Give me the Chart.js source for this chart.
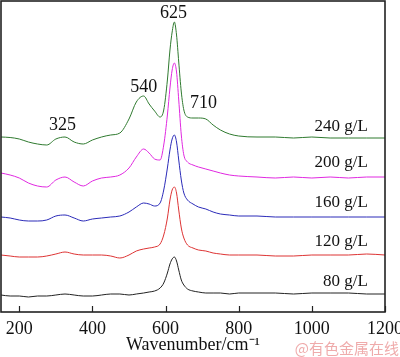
<!DOCTYPE html>
<html><head><meta charset="utf-8">
<script src="https://cdn.jsdelivr.net/npm/chart.js@4/dist/chart.umd.min.js"></script>
<style>html,body{margin:0;padding:0;background:#fff}#wrap{width:400px;height:357px}</style>
</head><body><div id="wrap"><canvas id="c" width="400" height="357"></canvas></div>
<script>
const wavenumbers = [150,175,200,225,250,275,300,325,350,375,400,425,450,475,500,520,540,555,570,585,595,605,612,618,624,630,636,643,650,660,675,690,710,730,750,775,800,850,900,950,1000,1050,1100,1150,1200];
const s240 = [175,174.5,173,170,168,167,173,175,170,168,172,175,177,179,193,210,216,208,201,195,202,232,262,280,290,277,250,220,202,195,194,194,193,187,182,178,176,175,175,174,175,174,174,174,174];
const s200 = [139,137,134,129,126,125,132,135,130,126,131,134,135,137,144,155,163,159,153,152,167,197,224,242,249,240,212,177,157,150,147,145,143,141,139,137,136,135,134,135,134,135,134,135,135];
const s160 = [95,94,92,91,91,92,96,97,94,91,93,94,95,96,100,105,109,108,106,109,122,144,162,173,177,170,152,132,119,112,108,105,103,100,98,97,96,96,95,95,95,95,95,95,95];
const s120 = [57,56,55,55,55,56,58,60,58,57,57,57,56,54,57,61,63,64,65,68,77,94,112,122,125,119,102,84,74,67,64,62,61,59,58,57,57,57,56,56,57,57,57,58,57];
const s80  = [17,16,16,15,16,16,17,18,17,16,16,17,18,18,17,18,19,20,21,24,29,39,48,53,55,51,42,32,27,23,21,20,19,19,19,18,19,19,19,18,19,19,19,18,18];
const seriesNames = ['240 g/L','200 g/L','160 g/L','120 g/L','80 g/L'];
const tickValues = [200,400,600,800,1000,1200];
// annotation texts and anchor points (data coordinates)
const peakTexts = ['625','540','710','325'];
const peakX = [622,540,704,318];
const peakY = [299,225,209,187];
const nameX = 1153;
const nameY = [185,149,109,70,30];

const colors = ['#2f7a2f','#e028e0','#2a2ab8','#dd3333','#222222'];
const seriesData = [s240,s200,s160,s120,s80];

const decor = {
  id:'decor',
  afterDraw(chart){
    const ctx = chart.ctx, a = chart.chartArea, xs = chart.scales.x, ys = chart.scales.y;
    ctx.save();
    ctx.strokeStyle = '#222'; ctx.lineWidth = 1.6;
    ctx.strokeRect(a.left, a.top, a.right - a.left, a.bottom - a.top);
    ctx.lineWidth = 1.2;
    tickValues.forEach(v => {
      const px = Math.round(xs.getPixelForValue(v)) + 0.5;
      ctx.beginPath(); ctx.moveTo(px, a.bottom); ctx.lineTo(px, a.bottom - 6); ctx.stroke();
    });
    ctx.fillStyle = '#111';
    ctx.font = '18px "Liberation Serif", "Times New Roman", serif';
    ctx.textAlign = 'center'; ctx.textBaseline = 'middle';
    peakTexts.forEach((t,i) => ctx.fillText(t, xs.getPixelForValue(peakX[i]), ys.getPixelForValue(peakY[i])));
    ctx.font = '17px "Liberation Serif", "Times New Roman", serif';
    ctx.textAlign = 'right';
    seriesNames.forEach((t,i) => ctx.fillText(t, xs.getPixelForValue(nameX), ys.getPixelForValue(nameY[i])));
    ctx.font = '15px "Noto Sans CJK SC", sans-serif';
    ctx.fillStyle = 'rgba(235,150,150,0.8)';
    ctx.textAlign = 'right';
    ctx.fillText('@有色金属在线', 399, 348);
    ctx.restore();
  }
};

new Chart(document.getElementById('c'), {
  type:'line',
  data:{
    datasets: seriesData.map((d,i) => ({
      label: seriesNames[i],
      data: wavenumbers.map((w,j) => ({x:w, y:d[j]})),
      borderColor: colors[i], borderWidth: 1, pointRadius: 0, cubicInterpolationMode:'monotone', fill:false
    }))
  },
  options:{
    responsive:false, animation:false, devicePixelRatio:1,
    layout:{padding:{left:1, top:1, right:15, bottom:0}},
    plugins:{legend:{display:false}, tooltip:{enabled:false}},
    scales:{
      x:{type:'linear', min:150, max:1200,
        grid:{display:false, drawTicks:false}, border:{display:false},
        afterBuildTicks(s){ s.ticks = tickValues.map(v => ({value:v})); },
        afterFit(s){ s.height = 45; s.paddingLeft = 0; s.paddingRight = 0; },
        ticks:{color:'#111', padding:6, maxRotation:0, autoSkip:false,
          callback:(v) => String(v),
          font:{family:'"Liberation Serif", "Times New Roman", serif', size:18}},
        title:{display:true, text:'Wavenumber/cm⁻¹', color:'#111', padding:{top:0,bottom:1},
          font:{family:'"Liberation Serif", "Times New Roman", serif', size:18}}
      },
      y:{display:false, min:0, max:311}
    }
  },
  plugins:[decor]
});
</script></body></html>
